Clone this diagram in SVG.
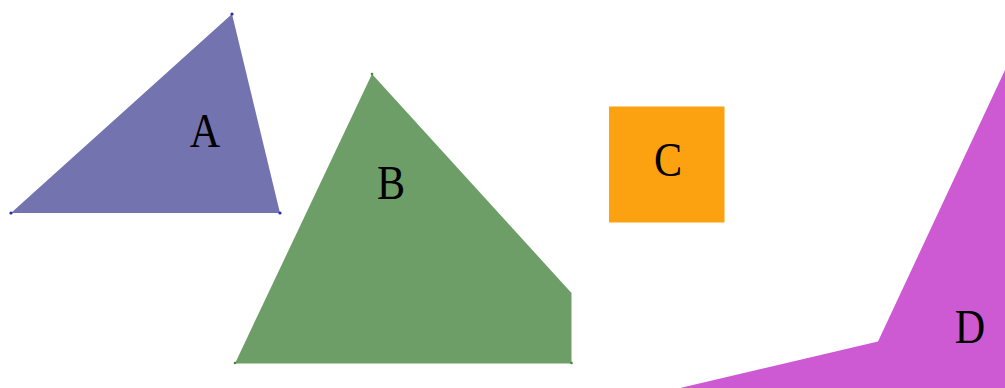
<svg xmlns="http://www.w3.org/2000/svg" width="1005" height="388" viewBox="0 0 1005 388">
<style>
.lbl{font-family:"Liberation Serif","DejaVu Serif",serif;font-size:49px;fill:#000;text-anchor:middle}
</style>
<rect width="1005" height="388" fill="#ffffff"/>
<g id="A">
<polygon points="11,213 232,14 280,213" fill="#7373b0"/>
<g fill="#2a2ab8"><circle cx="11" cy="213" r="1.6"/><circle cx="232" cy="14" r="1.6"/><circle cx="280" cy="213" r="1.6"/></g>
<text class="lbl" transform="translate(205,147) scale(0.86,1)">A</text>
</g>
<g id="B">
<polygon points="372,74 571.5,293 571.5,363.5 235,363.5" fill="#6e9e68"/>
<g fill="#3f8a3a"><circle cx="372" cy="74" r="1.3"/><circle cx="571.5" cy="363" r="1.3"/><circle cx="235" cy="363" r="1.3"/></g>
<text class="lbl" transform="translate(391,199) scale(0.86,1)">B</text>
</g>
<g id="C">
<rect x="609" y="106.5" width="115.5" height="116" fill="#fca10f"/>
<text class="lbl" transform="translate(668,176) scale(0.86,1)">C</text>
</g>
<g id="D">
<polygon points="1005,70 878,341.5 680,388 1005,388" fill="#cd5ad3"/>
<text class="lbl" transform="translate(970,343) scale(0.86,1)">D</text>
</g>
<g id="connectors"/>
</svg>
